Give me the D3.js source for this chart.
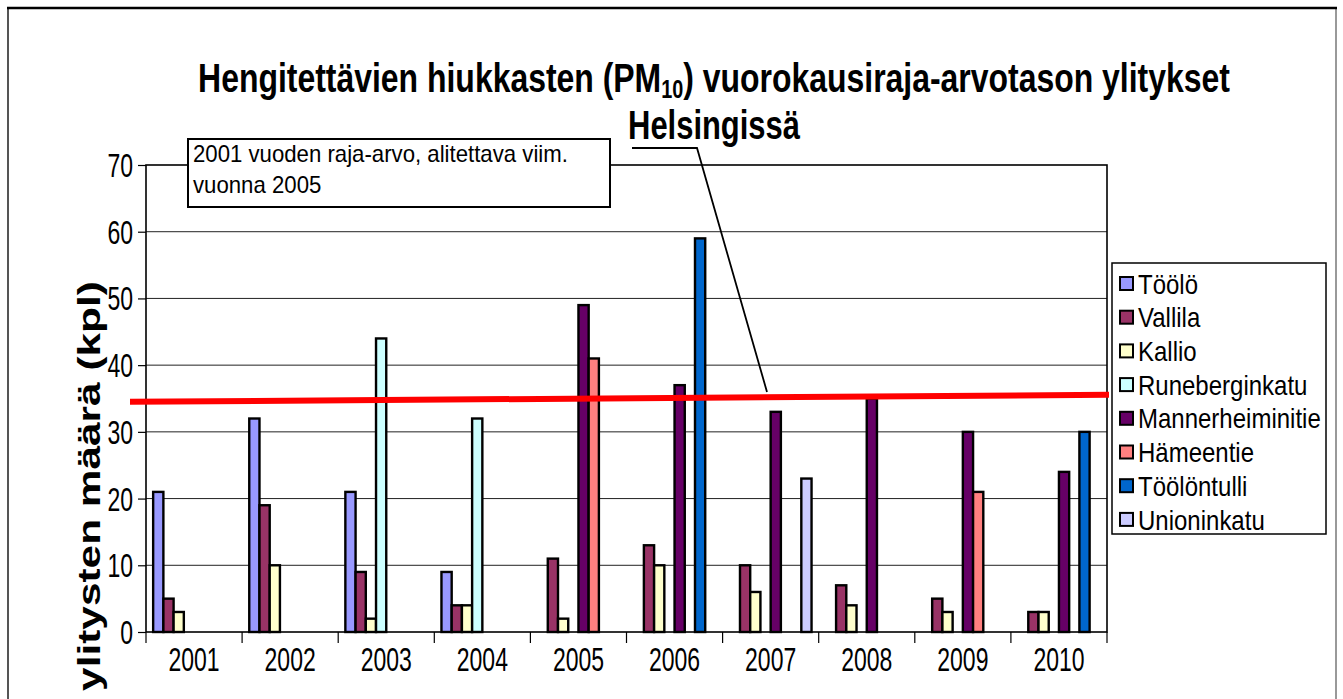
<!DOCTYPE html>
<html>
<head>
<meta charset="utf-8">
<script src="https://cdn.jsdelivr.net/npm/d3@7"></script>
<style>
  body { margin: 0; background: #fff; }
  text { font-family: Arial, "Liberation Sans", sans-serif; fill: #000; }
</style>
</head>
<body>
<svg id="chart" width="1343" height="699"></svg>
<script>
// chart data
var years = ['2001', '2002', '2003', '2004', '2005', '2006', '2007', '2008', '2009', '2010'];
var seriesNames = ['Töölö', 'Vallila', 'Kallio', 'Runeberginkatu', 'Mannerheiminitie', 'Hämeentie', 'Töölöntulli', 'Unioninkatu'];
var seriesColors = ['#9999FF', '#993366', '#FFFFCC', '#CCFFFF', '#660066', '#FF8080', '#0066CC', '#CCCCFF'];

var tooloValues = [21, 32, 21, 9, 0, 0, 0, 0, 0, 0];
var vallilaValues = [5, 19, 9, 4, 11, 13, 10, 7, 5, 3];
var kallioValues = [3, 10, 2, 4, 2, 10, 6, 4, 3, 3];
var runebergValues = [0, 0, 44, 32, 0, 0, 0, 0, 0, 0];
var mannerheimValues = [0, 0, 0, 0, 49, 37, 33, 35, 30, 24];
var hameentieValues = [0, 0, 0, 0, 41, 0, 0, 0, 21, 0];
var toolontulliValues = [0, 0, 0, 0, 0, 59, 0, 0, 0, 30];
var unioninkatuValues = [0, 0, 0, 0, 0, 0, 23, 0, 0, 0];

var yTicks = [0, 10, 20, 30, 40, 50, 60, 70];
// hand drawn limit line, slightly tilted (value at left end, value at right end)
var limitLine = [34.5, 35.55];

var titleLine1a = 'Hengitettävien hiukkasten (PM';
var titleSub = '10';
var titleLine1b = ') vuorokausiraja-arvotason ylitykset';
var titleLine2 = 'Helsingissä';
var yLabel = 'ylitysten määrä (kpl)';
var noteLines = ['2001 vuoden raja-arvo, alitettava viim.', 'vuonna 2005'];

var allValues = [tooloValues, vallilaValues, kallioValues, runebergValues,
  mannerheimValues, hameentieValues, toolontulliValues, unioninkatuValues];

var svg = d3.select('#chart');
var margin = { top: 165, right: 236, bottom: 67, left: 146 };
var width = 1343, height = 699;
var innerW = width - margin.left - margin.right;
var innerH = height - margin.top - margin.bottom;

// scale a text element to a given width (and a vertical stretch)
function fitText(t, x, y, w, sy) {
  var bw = t.node().getComputedTextLength();
  t.attr('transform', `translate(${x},${y}) scale(${w / bw},${sy})`);
  return t;
}

// outer frame
svg.append('line').attr('x1', 8).attr('x2', 8).attr('y1', 8).attr('y2', height)
  .style('stroke', '#555').style('stroke-width', 2);
svg.append('line').attr('x1', 1336).attr('x2', 1336).attr('y1', 9).attr('y2', height)
  .style('stroke', '#777').style('stroke-width', 1.5);
svg.append('line').attr('x1', 7).attr('x2', 1337).attr('y1', 8).attr('y2', 8)
  .style('stroke', '#000').style('stroke-width', 2.5);

var g = svg.append('g').attr('transform', `translate(${margin.left},${margin.top})`);

var x0 = d3.scaleBand().domain(years).range([0, innerW]).padding(0);
var x1 = d3.scaleBand().domain(seriesNames).range([0, x0.bandwidth()])
  .paddingInner(0).paddingOuter(0.7);
var y = d3.scaleLinear().domain([0, 70]).range([innerH, 0]);

// gridlines
g.append('g').selectAll('line').data(yTicks.slice(1, -1)).enter().append('line')
  .attr('x1', 0).attr('x2', innerW)
  .attr('y1', d => y(d)).attr('y2', d => y(d))
  .style('stroke', '#222').style('stroke-width', 1);

// y axis
var yAxis = g.append('g').call(d3.axisLeft(y).tickValues(yTicks).tickSize(8).tickPadding(5));
yAxis.select('.domain').remove();
yAxis.selectAll('.tick line').style('stroke', '#000').style('stroke-width', 1.2);
yAxis.selectAll('.tick text').style('font-size', '23px').attr('dy', null)
  .attr('dominant-baseline', 'central');
yAxis.selectAll('.tick text').each(function () {
  var t = d3.select(this);
  var xx = +t.attr('x');
  t.attr('x', null).attr('transform', `translate(${xx},0) scale(1,1.42)`);
});

// x axis
var xAxis = g.append('g').attr('transform', `translate(0,${innerH})`)
  .call(d3.axisBottom(x0).tickSize(0).tickPadding(0));
xAxis.select('.domain').remove();
xAxis.selectAll('.tick text').style('font-size', '23px').attr('y', null).attr('dy', null)
  .attr('transform', 'translate(0,39) scale(1,1.42)');
g.append('g').selectAll('line').data(years.concat(['end'])).enter().append('line')
  .attr('x1', (d, i) => i * x0.step()).attr('x2', (d, i) => i * x0.step())
  .attr('y1', innerH).attr('y2', innerH + 11)
  .style('stroke', '#000').style('stroke-width', 1.2);

// bars
var barData = [];
allValues.forEach(function (vals, si) {
  vals.forEach(function (v, yi) {
    if (v > 0) barData.push({ year: years[yi], series: seriesNames[si], color: seriesColors[si], value: v });
  });
});
g.append('g').selectAll('rect').data(barData).enter().append('rect')
  .attr('x', d => x0(d.year) + x1(d.series))
  .attr('y', d => y(d.value))
  .attr('width', x1.bandwidth())
  .attr('height', d => innerH - y(d.value))
  .style('fill', d => d.color)
  .style('stroke', '#000').style('stroke-width', 2.4);

// plot border
g.append('rect').attr('x', 0).attr('y', 0).attr('width', innerW).attr('height', innerH)
  .style('fill', 'none').style('stroke', '#000').style('stroke-width', 1.6);

// red limit line
g.append('line')
  .attr('x1', -16).attr('x2', innerW + 2)
  .attr('y1', y(limitLine[0])).attr('y2', y(limitLine[1]))
  .style('stroke', '#FF0000').style('stroke-width', 6);

// callout leader
svg.append('polyline')
  .attr('points', '632,148 697,148 767,392')
  .style('fill', 'none').style('stroke', '#000').style('stroke-width', 1.8);

// note box
svg.append('rect').attr('x', 188).attr('y', 139).attr('width', 422).attr('height', 68)
  .style('fill', '#fff').style('stroke', '#000').style('stroke-width', 2);
var note1 = svg.append('text').style('font-size', '18px').text(noteLines[0]);
fitText(note1, 193, 162, 375, 1.3);
var s1 = 375 / note1.node().getComputedTextLength();
svg.append('text').style('font-size', '18px').text(noteLines[1])
  .attr('transform', `translate(193,193) scale(${s1},1.3)`);

// title
var t1 = svg.append('text').attr('text-anchor', 'middle')
  .style('font-size', '29px').style('font-weight', 'bold');
t1.append('tspan').text(titleLine1a);
t1.append('tspan').style('font-size', '18px').attr('dy', 4).text(titleSub);
t1.append('tspan').attr('dy', -4).text(titleLine1b);
fitText(t1, 714, 92, 1032, 1.42);
var t2 = svg.append('text').attr('text-anchor', 'middle')
  .style('font-size', '29px').style('font-weight', 'bold').text(titleLine2);
fitText(t2, 714, 139, 172, 1.42);

// y axis title
var yl = svg.append('text').attr('text-anchor', 'middle')
  .style('font-size', '29px').style('font-weight', 'bold').text(yLabel);
var ylw = yl.node().getComputedTextLength();
yl.attr('transform', `translate(100,486) rotate(-90) scale(${410 / ylw},1.05)`);

// legend
var legend = svg.append('g').attr('transform', 'translate(1112,263)');
legend.append('rect').attr('width', 214).attr('height', 271)
  .style('fill', '#fff').style('stroke', '#000').style('stroke-width', 1.5);
var item = legend.selectAll('g.item').data(seriesNames).enter().append('g')
  .attr('class', 'item')
  .attr('transform', (d, i) => `translate(8,${20 + i * 33.7})`);
item.append('rect').attr('x', 0).attr('y', -6).attr('width', 13).attr('height', 13)
  .style('fill', (d, i) => seriesColors[i]).style('stroke', '#000').style('stroke-width', 2);
item.append('text').style('font-size', '20px').attr('dominant-baseline', 'central')
  .attr('transform', 'translate(18,1) scale(1.2,1.38)')
  .text(d => d);
</script>
</body>
</html>
